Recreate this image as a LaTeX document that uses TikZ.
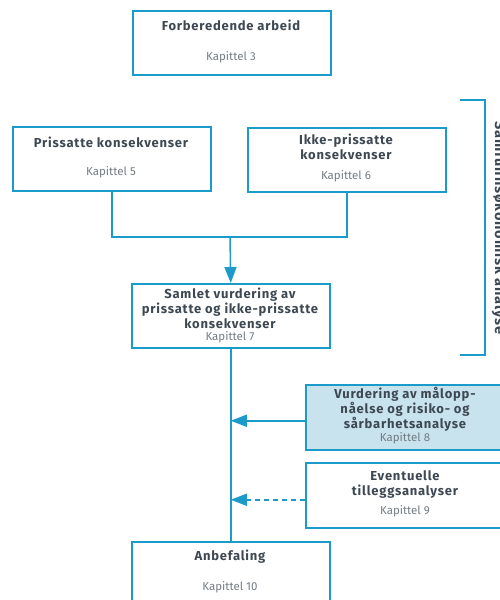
\documentclass[tikz,border=0pt]{standalone}
\usepackage{fontspec}
\setmainfont{Fira Sans}
\newfontfamily\ttlfont[LetterSpace=6]{Fira Sans}
\usetikzlibrary{arrows.meta}
\definecolor{lb}{HTML}{1B9BC9}
\definecolor{fillb}{HTML}{C8E2EE}
\definecolor{tc}{HTML}{3D4852}
\definecolor{kc}{HTML}{737C84}
\begin{document}
\begin{tikzpicture}[x=1pt,y=-1pt,
  box/.style={draw=lb,line width=1.5pt,rectangle,inner sep=0pt,anchor=north west,minimum width=198pt,minimum height=64pt},
  ttl/.style={font=\ttlfont\fontsize{13}{15}\selectfont\bfseries,text=tc,align=center,inner sep=0pt},
  kap/.style={font=\fontsize{11.5}{13}\selectfont,text=kc,inner sep=0pt},
  conn/.style={draw=lb,line width=1.5pt},
  arr/.style={conn,-{Triangle[length=16pt,width=12pt]}}]
\useasboundingbox (0,0) rectangle (500,600);
\clip (0,0) rectangle (500,600);
% boxes
\node[box] (b1) at (132,10) {};
\node[box] (b2) at (12,126) {};
\node[box] (b3) at (247,127) {};
\node[box] (b4) at (131,283) {};
\node[box,fill=fillb,minimum width=200pt,minimum height=65pt] (b5) at (305,384) {};
\node[box,minimum width=200pt,minimum height=65pt] (b6) at (305,462) {};
\node[box,minimum height=80pt] (b7) at (131,541) {};
% texts
\node[ttl] (t1) at (231,25) {Forberedende arbeid};
\node[kap] (k1) at (231,57) {Kapittel 3};
\node[ttl] (t2) at (111,142) {Prissatte konsekvenser};
\node[kap] (k2) at (111,172) {Kapittel 5};
\node[ttl] (t3) at (346,147) {Ikke-prissatte\\konsekvenser};
\node[kap] (k3) at (346,176) {Kapittel 6};
\node[ttl] (t4) at (230,308) {Samlet vurdering av\\prissatte og ikke-prissatte\\konsekvenser};
\node[kap] (k4) at (230,337) {Kapittel 7};
\node[ttl] (t5) at (405,409.5) {Vurdering av målopp-\\nåelse og risiko- og\\sårbarhetsanalyse};
\node[kap] (k5) at (405,438) {Kapittel 8};
\node[ttl] (t6) at (405,485) {Eventuelle\\tilleggsanalyser};
\node[kap] (k6) at (405,511) {Kapittel 9};
\node[ttl] (t7) at (230,557) {Anbefaling};
\node[kap] (k7) at (230,587) {Kapittel 10};
% connectors
\coordinate (j) at (230,237);
\draw[conn] (b2.south) |- (j) -| (b3.south);
\draw[arr] (j) -- (b4.north);
\draw[conn] (b4.south) -- (b7.north);
\coordinate (a5) at ([yshift=-3.5pt]b5.west);
\draw[arr] (a5) -- (a5 -| b4.south);
\coordinate (a6) at ([yshift=-4.5pt]b6.west);
\draw[arr,dash pattern=on 5pt off 4pt] (a6) -- (a6 -| b4.south);
% bracket
\coordinate (bt) at (460,100);
\coordinate (bb) at (460,355);
\draw[conn] (bt) -| (485,355) -- (bb);
\node[ttl,font=\ttlfont\fontsize{14.5}{16}\selectfont\bfseries,rotate=-90,anchor=base] (sa) at (495,228) {Samfunnsøkonomisk analyse};
\end{tikzpicture}
\end{document}
